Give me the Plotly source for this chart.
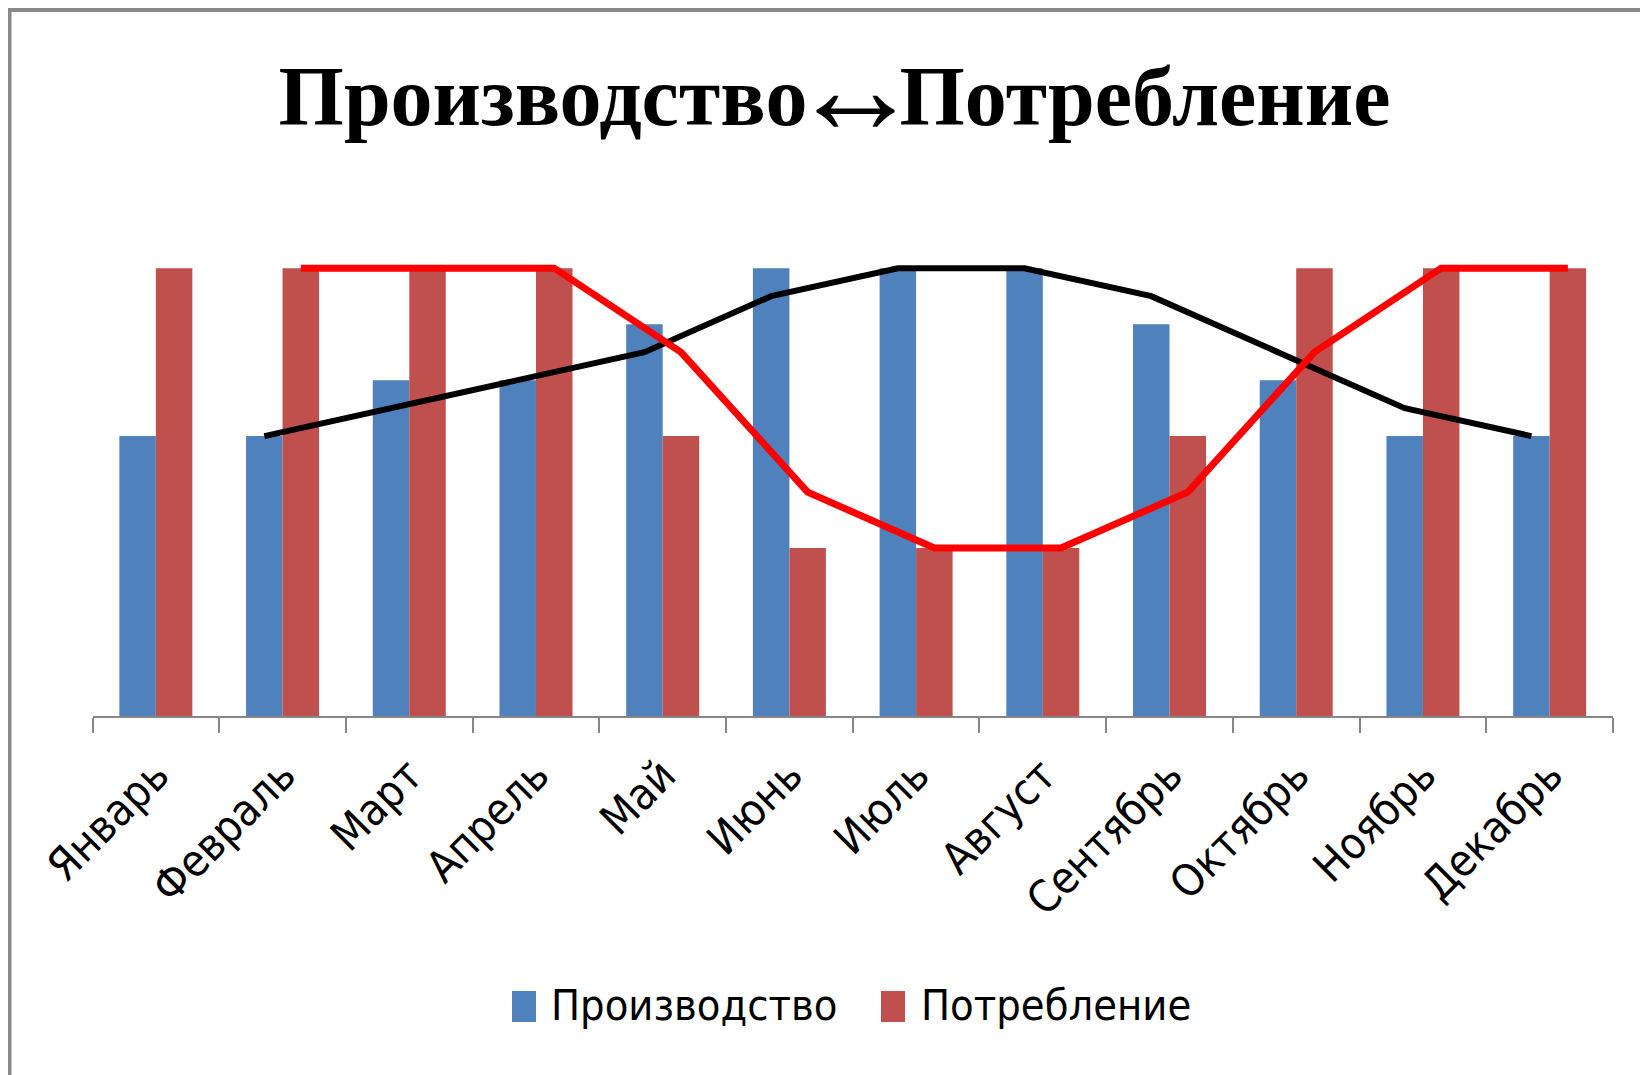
import plotly.graph_objects as go

# ---- data ----
months = ["Январь", "Февраль", "Март", "Апрель", "Май", "Июнь",
          "Июль", "Август", "Сентябрь", "Октябрь", "Ноябрь", "Декабрь"]
production = [5, 5, 6, 6, 7, 8, 8, 8, 7, 6, 5, 5]
consumption = [8, 8, 8, 8, 5, 3, 3, 3, 5, 8, 8, 8]
production_trend = [None, 5, 5.5, 6, 6.5, 7.5, 8, 8, 7.5, 6.5, 5.5, 5]
consumption_trend = [None, 8, 8, 8, 6.5, 4, 3, 3, 4, 6.5, 8, 8]

series_names = ["Производство", "Потребление"]
title_left, title_arrow, title_right = "Производство", "↔", "Потребление"

# ---- style ----
W, H = 1648, 1075
OFF = 8  # page body margin offset
BLUE = "#4F81BD"
RED = "#C0504D"
AXIS_GRAY = "#868686"
LABEL_FONT = "DejaVu Sans Condensed, Liberation Sans Narrow, Liberation Sans, sans-serif"

bargap = 0.424
bar_w = (1 - bargap) / 2
offset = bar_w / 2

# plot area in page pixels
px_left, px_right = 92.5, 1613
px_bottom, px_top = 716, 257


def fx(px):
    return (px - OFF) / W


def fy(py):
    return 1 - (py - OFF) / H


fig = go.Figure()
fig.add_trace(go.Bar(x=months, y=production, name=series_names[0],
                     marker=dict(color=BLUE, line=dict(width=0)),
                     showlegend=False, xaxis="x", yaxis="y"))
fig.add_trace(go.Bar(x=months, y=consumption, name=series_names[1],
                     marker=dict(color=RED, line=dict(width=0)),
                     showlegend=False, xaxis="x", yaxis="y"))

idx = list(range(len(months)))
fig.add_trace(go.Scatter(x=[i - offset for i in idx], y=production_trend,
                         mode="lines", line=dict(color="#000000", width=6),
                         showlegend=False, xaxis="x2", yaxis="y",
                         connectgaps=False))
fig.add_trace(go.Scatter(x=[i + offset for i in idx], y=consumption_trend,
                         mode="lines", line=dict(color="#FF0000", width=7),
                         showlegend=False, xaxis="x2", yaxis="y",
                         connectgaps=False))

xdom = [fx(px_left), fx(px_right)]
ydom = [fy(px_bottom), fy(px_top)]

title_html = (title_left[:-1]
              + '<span style="letter-spacing:-18px">' + title_left[-1] + '</span>'
              + '<span style="font-size:132px;font-weight:normal;baseline-shift:-8px;letter-spacing:-22px">'
              + title_arrow + '</span>' + title_right)

fig.update_layout(
    width=W, height=H,
    margin=dict(l=0, r=0, t=0, b=0),
    paper_bgcolor="white", plot_bgcolor="white",
    barmode="group", bargap=bargap, bargroupgap=0,
    title=dict(text=title_html, x=fx(834.5), xanchor="center",
               y=fy(96), yanchor="middle", xref="paper", yref="paper",
               font=dict(family="Liberation Serif, Times New Roman, serif",
                         size=84, color="black", weight="bold")),
    xaxis=dict(domain=xdom, type="category", range=[-0.5, 11.5],
               showline=True, linecolor=AXIS_GRAY, linewidth=1.5,
               ticks="outside", tickson="boundaries", ticklen=15,
               tickcolor=AXIS_GRAY, tickwidth=1.5, tickangle=-45,
               ticklabelstandoff=14,
               showgrid=False, zeroline=False,
               tickfont=dict(family=LABEL_FONT, size=44, color="black"),
               automargin=False),
    xaxis2=dict(domain=xdom, range=[-0.5, 11.5], overlaying="x",
                visible=False, anchor="y"),
    yaxis=dict(domain=ydom, range=[0, 8.2], visible=False,
               showgrid=False, zeroline=False, automargin=False),
    showlegend=False,
)

# outer chart border (top and left edges visible, rest cut off)
fig.add_shape(type="rect", xref="paper", yref="paper",
              x0=fx(9.5), x1=fx(1720), y0=fy(1140), y1=fy(10),
              line=dict(color="#888888", width=4), fillcolor="rgba(0,0,0,0)",
              layer="above")

# manual legend
legend_items = [(series_names[0], BLUE, 512, 549), (series_names[1], RED, 881, 919)]
for name, color, sx, tx in legend_items:
    fig.add_shape(type="rect", xref="paper", yref="paper",
                  x0=fx(sx), x1=fx(sx + 24), y0=fy(1022), y1=fy(991),
                  line=dict(width=0), fillcolor=color)
    fig.add_annotation(text=name, xref="paper", yref="paper",
                       x=fx(tx), y=fy(1005), xanchor="left", yanchor="middle",
                       showarrow=False,
                       font=dict(family=LABEL_FONT, size=43, color="black"))

fig.write_html("out.html")
